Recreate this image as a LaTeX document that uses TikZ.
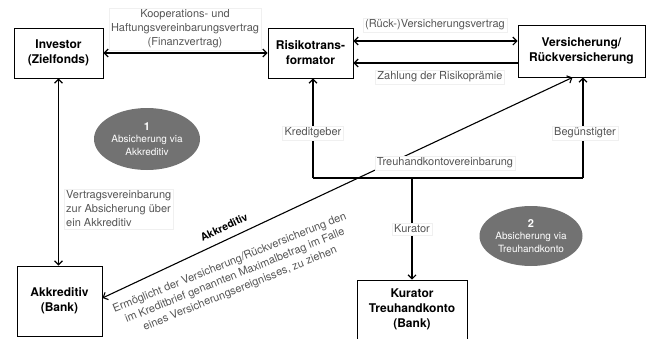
\documentclass[tikz,border=0pt]{standalone}
\usepackage{fontspec}
\setmainfont{TeX Gyre Heros}
\usetikzlibrary{arrows.meta,shapes.geometric}
\definecolor{lbl}{HTML}{555555}
\definecolor{ell}{HTML}{727272}
\begin{document}
\begin{tikzpicture}[x=1pt,y=-1pt,
 box/.style={draw,line width=0.9pt,fill=white,align=center,font=\bfseries\fontsize{12}{15}\selectfont,inner sep=0pt},
 lab/.style={fill=white,draw=black!6,text=lbl,font=\fontsize{11}{14}\selectfont,align=center,inner sep=2pt},
 arr/.style={line width=1.1pt,-{Straight Barb[length=4pt,width=8pt]}},
 darr/.style={line width=1.1pt,{Straight Barb[length=4pt,width=8pt]}-{Straight Barb[length=4pt,width=8pt]}},
 ellnode/.style={ellipse,fill=ell,text=white,align=center,font=\fontsize{10}{12.5}\selectfont,inner sep=0pt}
]
\useasboundingbox (0,0) rectangle (649,338);
\clip (0,0) rectangle (649,338);
% boxes
\node[box,minimum width=89pt,minimum height=50pt] (inv) at (58.5,53) {Investor\\(Zielfonds)};
\node[box,minimum width=85pt,minimum height=50pt] (risk) at (310.5,53) {Risikotrans-\\formator};
\node[box,minimum width=127pt,minimum height=52pt] (vers) at (581.5,51) {Versicherung/\\Rückversicherung};
\node[box,minimum width=85pt,minimum height=70pt] (akk) at (59.5,301) {Akkreditiv\\(Bank)};
\node[box,minimum width=110pt,minimum height=59pt] (kur) at (412,309.5) {Kurator\\Treuhandkonto\\(Bank)};
% helper coordinates
\coordinate (y41) at (0,41);
\coordinate (y63) at (0,63);
\coordinate (tl) at (313,178);
\coordinate (tm) at (412,178);
\coordinate (tr) at (583,178);
% connectors
\draw[darr] (inv.east) -- (risk.west);
\draw[darr] (risk.east |- y41) -- (vers.west |- y41);
\draw[arr] (vers.west |- y63) -- (risk.east |- y63);
\draw[darr] (inv.south) -- (inv.south |- akk.north);
\draw[line width=1.1pt] (tl) -- (tr);
\draw[arr] (tl) -- (tl |- risk.south);
\draw[arr] (tr) -- (tr |- vers.south);
\draw[arr] (tm) -- (kur.north);
\draw[darr] ([yshift=3pt]akk.east) -- ([xshift=-9pt]vers.south);
% labels
\node[lab] (koop) at (185,29) {Kooperations- und\\Haftungsvereinbarungsvertrag\\(Finanzvertrag)};
\node[lab] (rvv) at (435,25) {(Rück-)Versicherungsvertrag};
\node[lab] (zahl) at (440,77) {Zahlung der Risikoprämie};
\node[lab] (kred) at (313,133) {Kreditgeber};
\node[lab] (beg) at (585,133) {Begünstigter};
\node[lab] (treu) at (445,163) {Treuhandkontovereinbarung};
\node[lab] (kurl) at (412,229) {Kurator};
\node[lab,align=left,anchor=west] (vv) at (64,209) {Vertragsvereinbarung\\zur Absicherung über\\ein Akkreditiv};
% rotated texts
\node[rotate=25,font=\bfseries\fontsize{10.5}{12}\selectfont] (akt) at (224,227) {Akkreditiv};
\node[rotate=22,align=center,text=lbl,font=\fontsize{11}{14}\selectfont] (erm) at (235,276) {Ermöglicht der Versicherung/Rückversicherung den\\im Kreditbrief genannten Maximalbetrag im Falle\\eines Versicherungsereignisses, zu ziehen};
% ellipses
\node[ellnode,minimum width=106pt,minimum height=62pt] (e1) at (147,139) {{\bfseries\fontsize{11}{12}\selectfont 1}\\Absicherung via\\Akkreditiv};
\node[ellnode,minimum width=103pt,minimum height=60pt] (e2) at (531,236) {{\bfseries\fontsize{11}{12}\selectfont 2}\\Absicherung via\\Treuhandkonto};
\end{tikzpicture}
\end{document}
